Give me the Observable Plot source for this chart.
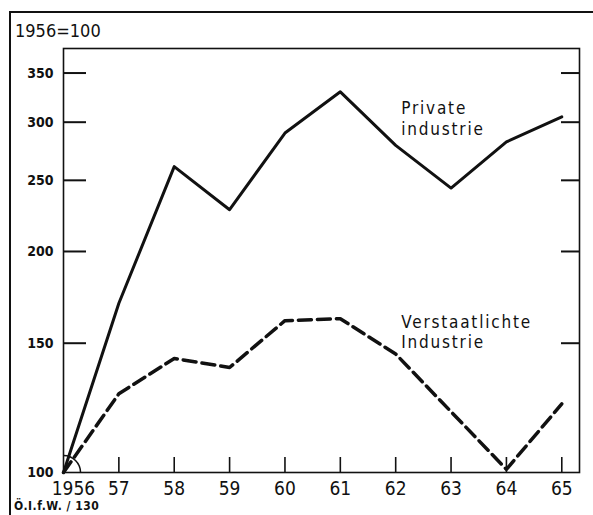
<!DOCTYPE html>
<html>
<head>
<meta charset="utf-8">
<script src="https://cdn.jsdelivr.net/npm/d3@7"></script>
<script src="https://cdn.jsdelivr.net/npm/@observablehq/plot@0.6"></script>
<style>
  html, body { margin: 0; padding: 0; background: #fff; }
  #wrap { position: relative; width: 593px; height: 515px; overflow: hidden; font-family: "DejaVu Sans Condensed", "DejaVu Sans", sans-serif; color: #111; }
  #chart { position: absolute; left: 0; top: 0; }
  .border-top { position: absolute; left: 9px; top: 11px; width: 600px; height: 2px; background: #111; }
  .border-left { position: absolute; left: 9px; top: 11px; width: 2px; height: 520px; background: #111; }
  #title { position: absolute; left: 15px; top: 20px; font-size: 18px; }
  #caption { position: absolute; left: 14px; top: 499px; font-size: 12px; font-weight: bold; letter-spacing: 0.5px; }
</style>
</head>
<body>
<div id="wrap">
  <div class="border-top"></div>
  <div class="border-left"></div>
  <div id="chart"></div>
  <div id="title">1956=100</div>
  <div id="caption">Ö.I.f.W. / 130</div>
</div>
<script>
const years = [1956, 1957, 1958, 1959, 1960, 1961, 1962, 1963, 1964, 1965];
const xTickLabels = ["1956", "57", "58", "59", "60", "61", "62", "63", "64", "65"];
const privateIndustrie = [100, 170, 261, 228, 290, 330, 279, 244, 282, 305];
const verstaatlichteIndustrie = [100, 128, 143, 139, 161, 162, 145, 121, 101, 124];
const yTicks = [100, 150, 200, 250, 300, 350];
const seriesLabels = ["Private\nindustrie", "Verstaatlichte\nIndustrie"];

const priv = years.map((y, i) => ({year: y, value: privateIndustrie[i]}));
const stat = years.map((y, i) => ({year: y, value: verstaatlichteIndustrie[i]}));
const labelFor = new Map(years.map((y, i) => [y, xTickLabels[i]]));

const W = 593, H = 515, mL = 63, mR = 14, mT = 48, mB = 43;
const innerW = W - mL - mR, innerH = H - mT - mB;
const font = '"DejaVu Sans Condensed", "DejaVu Sans", sans-serif';

const chart = Plot.plot({
  width: W, height: H,
  marginLeft: mL, marginRight: mR, marginTop: mT, marginBottom: mB,
  style: {background: "transparent", fontFamily: font, color: "#111"},
  x: {domain: [1956, 1965.32]},
  y: {type: "log", domain: [100, 378]},
  marks: [
    Plot.frame({stroke: "#111", strokeWidth: 1.6}),
    Plot.tickY(yTicks.slice(1), {y: d => d, insetRight: innerW - 23, stroke: "#111", strokeWidth: 2}),
    Plot.tickY(yTicks.slice(1), {y: d => d, insetLeft: innerW - 18, stroke: "#111", strokeWidth: 2}),
    Plot.tickX(years.slice(1), {x: d => d, insetTop: innerH - 15, stroke: "#111", strokeWidth: 1.6}),
    Plot.axisY(yTicks, {anchor: "left", tickSize: 0, tickPadding: 10, fontSize: 14, fontWeight: "bold", label: null, tickFormat: d => String(d)}),
    Plot.axisX(years.slice(1), {anchor: "bottom", tickSize: 0, tickPadding: 9, fontSize: 19, label: null, tickFormat: d => labelFor.get(d)}),
    Plot.axisX([1956], {anchor: "bottom", tickSize: 0, tickPadding: 9, dx: 10, fontSize: 19, label: null, tickFormat: d => labelFor.get(d)}),
    Plot.dot([priv[0]], {x: "year", y: "value", r: 17, stroke: "#111", fill: "none", strokeWidth: 1.5, clip: true}),
    Plot.line(priv, {x: "year", y: "value", stroke: "#111", strokeWidth: 3}),
    Plot.line(stat, {x: "year", y: "value", stroke: "#111", strokeWidth: 3.5, strokeDasharray: "13,6"}),
    Plot.text([{x: 1962.1, y: 304, t: seriesLabels[0]}], {x: "x", y: "y", text: "t", textAnchor: "start", fontSize: 17, lineHeight: 1.2, fill: "#111"}),
    Plot.text([{x: 1962.1, y: 155.5, t: seriesLabels[1]}], {x: "x", y: "y", text: "t", textAnchor: "start", fontSize: 17, lineHeight: 1.2, fill: "#111"})
  ]
});
document.getElementById("chart").appendChild(chart);
d3.select(chart).selectAll('g[aria-label="text"] text').style("letter-spacing", "1.8px");
</script>
</body>
</html>
